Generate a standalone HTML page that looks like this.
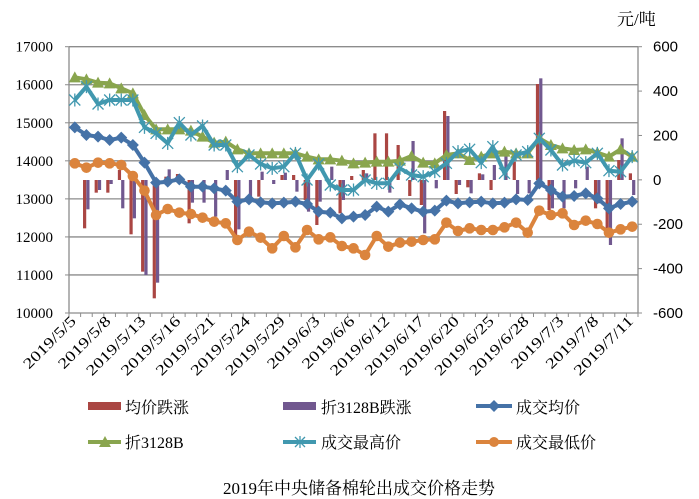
<!DOCTYPE html>
<html><head><meta charset="utf-8">
<style>
html,body{margin:0;padding:0;background:#fff;}
svg{display:block;}
text{font-family:"Liberation Serif","Noto Serif CJK SC","Noto Sans CJK SC",serif;fill:#000;}
</style></head>
<body>
<svg id="c" width="699" height="499" viewBox="0 0 699 499" xmlns="http://www.w3.org/2000/svg"></svg>
<script>
var NS="http://www.w3.org/2000/svg",svg=document.getElementById('c');
function el(t,a,txt){var e=document.createElementNS(NS,t);for(var k in a)e.setAttribute(k,a[k]);if(txt!=null)e.textContent=txt;svg.appendChild(e);return e;}
var L=69,R=638,T=46.7,B=313,N=49,W=(R-L)/N;
function X(i){return L+W*(i+0.5);}
function yz(z){return 40+z/3;}
for(var k=0;k<8;k++){var y=T+(B-T)*k/7;
 if(k<7) el('line',{x1:L,y1:y,x2:R,y2:y,stroke:'#8c8c8c','stroke-width':1.3});
 el('line',{x1:L-4,y1:y,x2:L,y2:y,stroke:'#8c8c8c','stroke-width':1});
 el('text',{x:53,y:y+5,'font-size':15,'text-anchor':'end'},String(17000-1000*k));
}
for(var k=0;k<7;k++){var y=T+(B-T)*k/6;
 el('line',{x1:R,y1:y,x2:R+4,y2:y,stroke:'#8c8c8c','stroke-width':1});
 el('text',{x:653,y:y+5,'font-size':15,'style':'font-family:"Liberation Sans",sans-serif'},String(600-200*k));
}
el('line',{x1:L,y1:T,x2:L,y2:B,stroke:'#8c8c8c','stroke-width':1.3});
el('line',{x1:R,y1:T,x2:R,y2:B,stroke:'#8c8c8c','stroke-width':1.3});
el('line',{x1:L,y1:B,x2:R,y2:B,stroke:'#8c8c8c','stroke-width':1.3});
for(var i=0;i<=N;i++){var x=L+W*i;el('line',{x1:x,y1:B,x2:x,y2:B+4,stroke:'#8c8c8c','stroke-width':1});}
el('text',{x:617,y:25,'font-size':17},'元/吨');
var labs=['2019/5/5','2019/5/8','2019/5/13','2019/5/16','2019/5/21','2019/5/24','2019/5/29','2019/6/3','2019/6/6','2019/6/12','2019/6/17','2019/6/20','2019/6/25','2019/6/28','2019/7/3','2019/7/8','2019/7/11'];
for(var j=0;j<labs.length;j++){var x=X(j*3)+2,y=322,s=labs[j],u=0;
 for(var c=0;c<s.length;c++)u+=(s[c]=='/'?0.278:0.5);
 el('text',{x:x,y:y,'font-size':15,'text-anchor':'end',textLength:(19*u).toFixed(1),lengthAdjust:'spacingAndGlyphs',transform:'rotate(-45 '+x+' '+y+')'},s);}
var red=[420,565,458,458,390,583,695,775,410,402,550,420,420,420,585,420,470,420,405,405,480,555,420,520,408,390,280,280,315,468,495,420,213,462,442,400,450,420,365,420,132,510,420,420,420,505,570,360,400];
var pur=[420,508,450,432,505,535,705,728,388,420,488,488,530,390,568,470,395,432,398,455,515,485,380,480,420,400,420,458,420,303,580,445,228,435,460,403,375,348,462,460,115,505,505,445,380,490,615,295,465];
for(var i=0;i<N;i++){var x=X(i);
 function bar(z,x0,c){var a=yz(z),b=yz(420);if(Math.abs(a-b)<0.5)return;el('rect',{x:x0,y:Math.min(a,b),width:3.2,height:Math.abs(a-b),fill:c});}
 bar(red[i],x-3.4,'#AA4643');bar(pur[i],x-0.1,'#71588F');}
var blue=[262,285,290,300,293,315,368,428,425,418,440,440,445,452,485,478,487,490,488,485,492,515,518,535,530,525,500,515,493,505,515,512,482,490,487,485,490,488,478,480,430,450,470,468,460,475,505,492,485];
var org=[370,383,368,370,375,408,452,525,507,518,522,533,545,550,600,575,593,625,588,622,570,598,592,618,625,645,588,620,608,605,600,598,548,573,565,570,570,562,548,578,512,525,520,555,542,552,578,568,560];
var grn=[112,118,128,130,145,160,225,268,268,268,272,290,308,305,328,340,340,340,340,340,350,358,358,362,370,368,365,365,362,348,368,370,345,340,360,350,340,335,340,340,295,315,325,330,328,338,350,328,350];
var cyn=[180,140,192,180,180,180,262,280,310,248,285,258,315,315,380,345,372,385,380,340,420,372,435,450,450,420,430,430,385,405,410,395,370,335,328,368,320,400,345,335,295,330,375,362,368,340,392,395,350];
function line(d,c){var p=d.map(function(z,i){return X(i).toFixed(1)+','+yz(z).toFixed(1);}).join(' ');
 el('polyline',{points:p,fill:'none',stroke:c,'stroke-width':4,'stroke-linejoin':'round'});}
line(grn,'#89A54E');
grn.forEach(function(z,i){var x=X(i),y=yz(z);el('polygon',{points:(x-6)+','+(y+5)+' '+x+','+(y-6)+' '+(x+6)+','+(y+5),fill:'#89A54E'});});
line(cyn,'#4198AF');
cyn.forEach(function(z,i){var x=X(i),y=yz(z),s=5.5;
 el('path',{d:'M'+(x-s)+' '+(y-s)+'L'+(x+s)+' '+(y+s)+'M'+(x-s)+' '+(y+s)+'L'+(x+s)+' '+(y-s)+'M'+x+' '+(y-s-1)+'L'+x+' '+(y+s+1),stroke:'#4198AF','stroke-width':1.3,fill:'none'});});
line(blue,'#4572A7');
blue.forEach(function(z,i){var x=X(i),y=yz(z);el('polygon',{points:(x-6)+','+y+' '+x+','+(y-6)+' '+(x+6)+','+y+' '+x+','+(y+6),fill:'#4572A7'});});
line(org,'#DB843D');
org.forEach(function(z,i){el('circle',{cx:X(i),cy:yz(z),r:5.3,fill:'#DB843D'});});
el('rect',{x:88,y:402,width:33,height:8,fill:'#AA4643'});el('text',{x:125,y:413,'font-size':16},'均价跌涨');
el('rect',{x:283,y:402,width:33,height:8,fill:'#71588F'});el('text',{x:321,y:413,'font-size':16},'折3128B跌涨');
el('line',{x1:476,y1:406,x2:512,y2:406,stroke:'#4572A7','stroke-width':4});
el('polygon',{points:'488,406 494,400 500,406 494,412',fill:'#4572A7'});el('text',{x:516,y:413,'font-size':16},'成交均价');
el('line',{x1:88,y1:442,x2:121,y2:442,stroke:'#89A54E','stroke-width':4});
el('polygon',{points:'99,447 105,436 111,447',fill:'#89A54E'});el('text',{x:125,y:448,'font-size':16},'折3128B');
el('line',{x1:283,y1:442,x2:316,y2:442,stroke:'#4198AF','stroke-width':4});
el('path',{d:'M295 437L305 447M295 447L305 437M300 436L300 448',stroke:'#4198AF','stroke-width':1.3});
el('text',{x:321,y:448,'font-size':16},'成交最高价');
el('line',{x1:476,y1:442,x2:512,y2:442,stroke:'#DB843D','stroke-width':4});
el('circle',{cx:494,cy:442,r:5,fill:'#DB843D'});el('text',{x:516,y:448,'font-size':16},'成交最低价');
el('text',{x:359,y:494,'font-size':17,'text-anchor':'middle'},'2019年中央储备棉轮出成交价格走势');
</script>
</body></html>
